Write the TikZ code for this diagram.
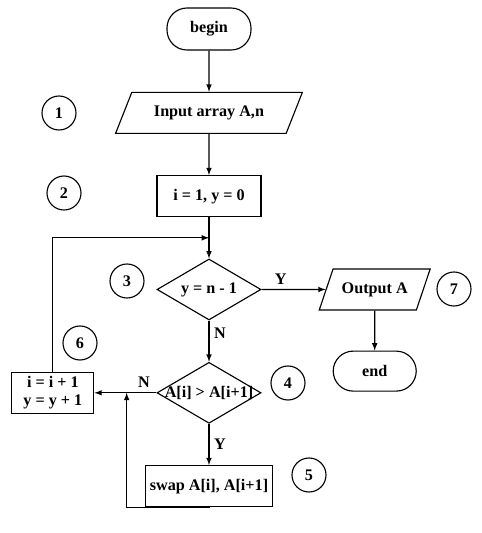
\documentclass[tikz,border=0pt]{standalone}
\usepackage{fontspec}
\setmainfont{Liberation Serif}
\usetikzlibrary{positioning,calc}
\usetikzlibrary{shapes.geometric, arrows}
\tikzset{
  term/.style={rectangle, rounded corners=0.5cm, minimum width=2.1cm, minimum height=1.05cm, text centered, draw=black},
  io/.style={trapezium, trapezium left angle=62, trapezium right angle=118, trapezium stretches=true, minimum height=1.025cm, text centered, draw=black},
  op/.style={rectangle, minimum width=2.6cm, minimum height=1.025cm, text centered, draw=black},
  cn/.style={diamond, minimum width=2.6cm, minimum height=1.525cm, inner sep=0pt, text centered, draw=black},
  num/.style={circle, minimum size=0.85cm, inner sep=0pt, draw=black},
  node distance=1.03cm
}

\begin{document}
\begin{tikzpicture}[thick, >=latex, font=\fontsize{11.5}{13}\selectfont\bfseries]
	\useasboundingbox (0,0) rectangle (12.025,-13.325);
	\node[term] (start) at (5.225,-0.725) {begin};
	\node[io, minimum width=4.675cm, below=of start] (input) {Input array A,n};
	\node[op, below=of input] (init) {i = 1, y = 0};
	\node[cn, below=of init] (cond) {\makebox[0pt]{y = n - 1}};
	\node[cn, below=of cond] (cmp) {\makebox[0pt]{A[i] > A[i+1]}};
	\node[op, minimum width=3.1cm, below=of cmp] (swap) {swap A[i], A[i+1]};
	\node[op, minimum width=2.05cm, align=center, inner sep=1pt, left=1.55cm of cmp] (upd) {i = i + 1\\y = y + 1};
	\node[io, minimum width=2.775cm, right=1.6cm of cond] (output) {Output A};
	\node[term, minimum width=2.075cm, minimum height=1cm, below=1cm of output] (end) {end};
	
	% step numbers
	\node[num] (n1) at (1.475,-2.825) {1};
	\node[num] (n2) at (1.6,-4.825) {2};
	\node[num] (n3) at (3.175,-7.025) {3};
	\node[num] (n4) at (7.2,-9.575) {4};
	\node[num] (n5) at (7.725,-11.875) {5};
	\node[num] (n6) at (2.0,-8.575) {6};
	\node[num] (n7) at (11.35,-7.225) {7};
	
	%
	\draw[->] (start) -- (input);
	\draw[->] (input) -- (init);
	\draw[->] (init) -- (cond) coordinate[midway] (initedge);
	\draw[->] (cond) -- node[above, pos=0.3] {Y} (output);
	\draw[->] (output) -- (end);
	\draw[->] (cond) -- node[right, pos=0.3] {N} (cmp);
	\draw[->] (cmp) -- node[above, pos=0.2] {N} (upd) coordinate[pos=0.48] (noedge);
	\draw[->] (cmp) -- node[right] {Y} (swap);
	\draw[->] (upd) |- (initedge);
	\draw[->] (swap) -- ++(0,-0.525) -| (noedge);
\end{tikzpicture}
\end{document}
